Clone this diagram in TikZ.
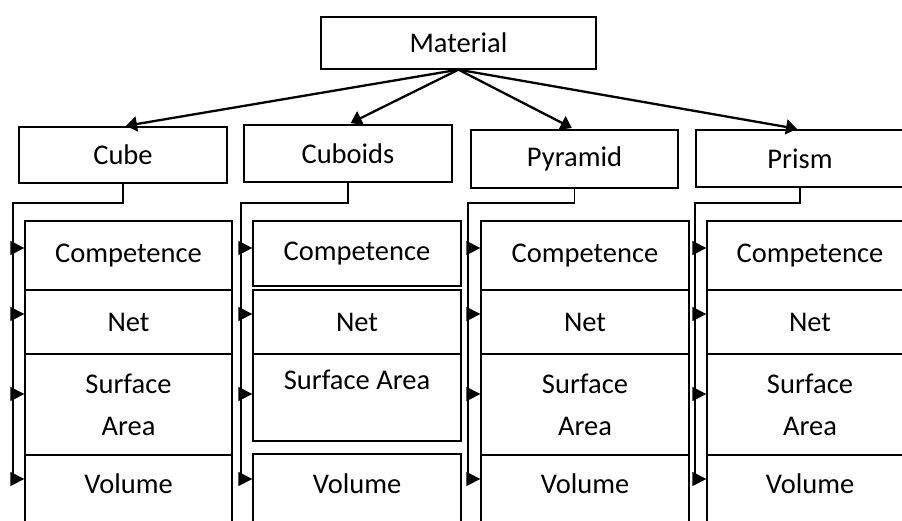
\documentclass[tikz,border=0pt]{standalone}
\usepackage{fontspec}
\setmainfont{Carlito}
\usetikzlibrary{arrows.meta}

\tikzset{
  box/.style={draw, line width=1.3pt, inner sep=0pt, align=center,
    font=\fontsize{28.5}{42}\selectfont},
  main/.style={line width=2.3pt, -{Triangle[length=11pt,width=15pt]}, shorten >=3pt},
  link/.style={line width=1.3pt},
  side/.style={line width=1.3pt, -{Triangle[length=14pt,width=14pt]}}
}

\begin{document}
\begin{tikzpicture}[x=1pt, y=-1pt]
  \useasboundingbox (0,0) rectangle (902,520);
  \clip (0,0) rectangle (902,520);

  % ---- Material ----
  \node[box, minimum width=275pt, minimum height=52pt] (mat) at (458.5,43) {Material};

  % ---- solids ----
  \node[box, minimum width=208pt, minimum height=56pt] (cube) at (123,155) {Cube};
  \node[box, minimum width=208pt, minimum height=57pt] (cuboid) at (348,153.5) {Cuboids};
  \node[box, minimum width=207pt, minimum height=58pt] (pyramid) at (574.5,159) {Pyramid};
  \node[box, minimum width=208pt, minimum height=57pt] (prism) at (800,158.5) {Prism};
  \foreach \s in {cube,cuboid,pyramid,prism}
    \draw[main] (mat.south) -- (\s.north);

  % ---- Cube, Pyramid, Prism columns ----
  \foreach \s/\cx/\w in {cube/128.5/207, pyramid/585/208, prism/810/206}
    \foreach \r/\y/\h/\t in {comp/255.5/69/Competence, net/322/64/Net,
                             area/404.5/101/{Surface\\Area}, vol/505/100/{Volume\\\mbox{}}}
      \node[box, minimum width=\w pt, minimum height=\h pt] (\s-\r) at (\cx,\y) {\t};

  % ---- Cuboids column ----
  \foreach \r/\y/\h/\t in {comp/253.5/65/Competence, net/322/64/Net,
                           area/397.5/87/{Surface Area\\[-6pt]\mbox{}}, vol/504.5/101/{Volume\\\mbox{}}}
    \node[box, minimum width=208pt, minimum height=\h pt] (cuboid-\r) at (357,\y) {\t};

  % ---- links ----
  \foreach \s/\vx in {cube/13, cuboid/241, pyramid/468, prism/695} {
    \coordinate (\s-turn) at (\vx,203);
    \draw[link] (\s.south) |- (\s-turn) -- (\s-turn |- 0,479);
    \foreach \r/\y in {comp/248, net/314, area/394, vol/479}
      \draw[side] (\s-turn |- 0,\y) -- (\s-\r.west |- 0,\y);
  }
\end{tikzpicture}
\end{document}
